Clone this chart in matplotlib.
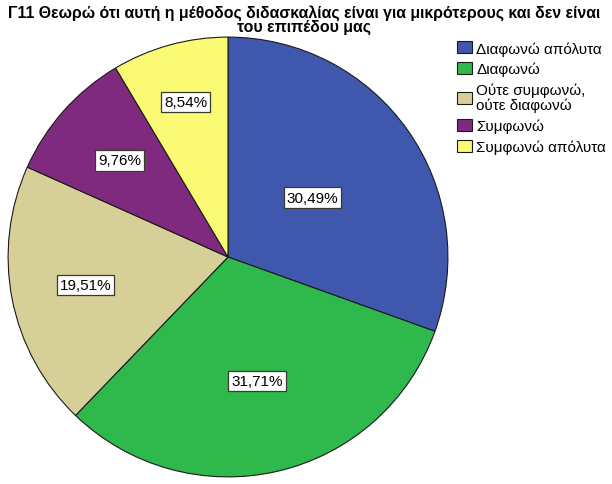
import numpy as np
import matplotlib
matplotlib.use("Agg")
import matplotlib.pyplot as plt

plt.rcParams['font.family'] = ['Liberation Sans', 'DejaVu Sans']

title = "Γ11 Θεωρώ ότι αυτή η μέθοδος διδασκαλίας είναι για μικρότερους και δεν είναι\nτου επιπέδου μας"
categories = ["Διαφωνώ απόλυτα", "Διαφωνώ", "Ούτε συμφωνώ,\nούτε διαφωνώ", "Συμφωνώ", "Συμφωνώ απόλυτα"]
percents = [30.49, 31.71, 19.51, 9.76, 8.54]
colors = ["#3f58ad", "#2fb84b", "#d6cf97", "#802a7f", "#fafa74"]
# SPSS places each label at its own distance from the centre
label_radius = [0.47, 0.58, 0.66, 0.66, 0.73]

W, H = 612, 485
fig = plt.figure(figsize=(W / 100, H / 100), dpi=100)
cx, cy, r = 228, 258, 221
ax = fig.add_axes([(cx - r) / W, (H - cy - r) / H, 2 * r / W, 2 * r / H])

wedges, _ = ax.pie(percents, colors=colors, startangle=90, counterclock=False,
                   wedgeprops=dict(edgecolor="#1a1a1a", linewidth=0.8))
ax.set_xlim(-1.005, 1.005)
ax.set_ylim(-1.005, 1.005)
ax.set_aspect("equal")
ax.axis("off")

for w, p, d in zip(wedges, percents, label_radius):
    mid = np.deg2rad((w.theta1 + w.theta2) / 2)
    ax.text(d * np.cos(mid), d * np.sin(mid), ("%.2f%%" % p).replace(".", ","),
            ha="center", va="center", fontsize=11,
            bbox=dict(boxstyle="square,pad=0.2", facecolor="white",
                      edgecolor="#3a3a2a", linewidth=0.9))

fig.suptitle(title, x=0.497, y=0.99, fontsize=11.4, fontweight="bold", linespacing=0.95)

leg = fig.legend(wedges, categories, loc="upper left", bbox_to_anchor=(457 / W, 1 - 42 / H),
                 frameon=False, fontsize=11, handlelength=1.0, handleheight=0.85,
                 handletextpad=0.25, labelspacing=0.42, borderaxespad=0, borderpad=0)
for t in leg.get_texts():
    t.set_linespacing(1.02)

fig.savefig("out.png", dpi=100)
